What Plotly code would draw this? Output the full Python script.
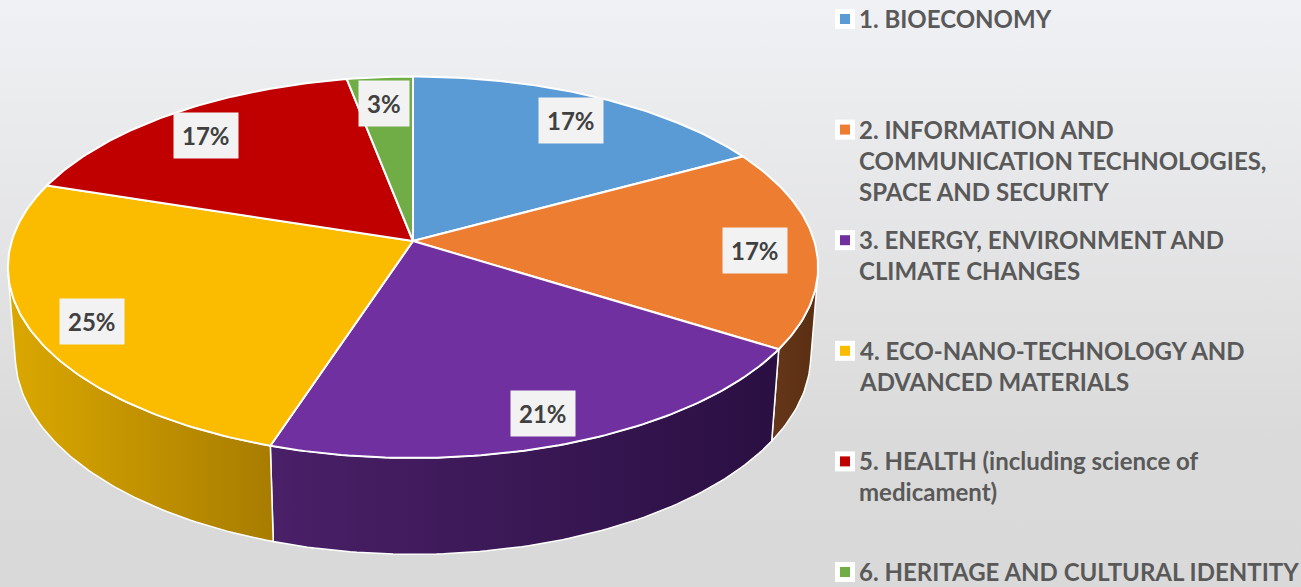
import numpy as np
import plotly.graph_objects as go

# ---------------- data ----------------
categories = [
    "1. BIOECONOMY",
    "2. INFORMATION AND COMMUNICATION TECHNOLOGIES, SPACE AND SECURITY",
    "3. ENERGY, ENVIRONMENT AND CLIMATE CHANGES",
    "4. ECO-NANO-TECHNOLOGY AND ADVANCED MATERIALS",
    "5. HEALTH (including science of medicament)",
    "6. HERITAGE AND CULTURAL IDENTITY",
]
legend_text = [
    "1. BIOECONOMY",
    "2. INFORMATION AND<br>COMMUNICATION TECHNOLOGIES,<br>SPACE AND SECURITY",
    "3. ENERGY, ENVIRONMENT AND<br>CLIMATE CHANGES",
    "4. ECO-NANO-TECHNOLOGY AND<br>ADVANCED MATERIALS",
    "5. HEALTH (including science of<br>medicament)",
    "6. HERITAGE AND CULTURAL IDENTITY",
]
values = [17, 17, 21, 25, 17, 3]
top_colors = ["#5B9BD5", "#ED7D31", "#7030A0", "#FBBC00", "#C00000", "#70AD47"]
side_colors = [
    ("#3d6d99", "#2f5578"),
    ("#65361a", "#5a2e12"),
    ("#4a2068", "#2a0f42"),
    ("#dba800", "#a87c00"),
    ("#8a0000", "#6a0000"),
    ("#4f7d31", "#3d6226"),
]

# ---------------- geometry (3D perspective pie) ----------------
W, H = 1301, 587
CX, CY = 413, 241
F = 2580.0
DIST = 6.43
PHI = np.radians(27.8)
THICK = 0.25
S, C = np.sin(PHI), np.cos(PHI)


def proj(u, v, z):
    d = v * C + DIST - z * S
    return CX + F * u / d, CY - F * (v * S + z * C) / d


total = float(sum(values))
cum = np.concatenate([[0.0], np.cumsum(values) / total]) * 2 * np.pi

fig = go.Figure()

# background gradient
fig.add_trace(go.Scatter(
    x=[0, W, W, 0, 0], y=[0, 0, H, H, 0], mode="lines", line=dict(width=0),
    fill="toself",
    fillgradient=dict(type="vertical", start=0, stop=H,
                      colorscale=[[0, "#f0f1f4"], [0.75, "#dadada"], [1, "#d9d9d9"]]),
    hoverinfo="skip", showlegend=False,
))

# visible outer walls
th_lo = np.arccos(-1.0 / (DIST * C))
th_hi = 2 * np.pi - th_lo
for i in range(len(values)):
    a, b = cum[i], cum[i + 1]
    lo, hi = max(a, th_lo), min(b, th_hi)
    if lo >= hi:
        continue
    t = np.linspace(lo, hi, max(8, int((hi - lo) / (2 * np.pi) * 400)))
    xt, yt = proj(np.sin(t), np.cos(t), 0.0)
    xb, yb = proj(np.sin(t[::-1]), np.cos(t[::-1]), -THICK)
    xs = np.concatenate([xt, xb, xt[:1]])
    ys = np.concatenate([yt, yb, yt[:1]])
    fig.add_trace(go.Scatter(
        x=xs, y=ys, mode="lines", line=dict(color="white", width=1.5),
        fill="toself",
        fillgradient=dict(type="horizontal",
                          colorscale=[[0, side_colors[i][0]], [1, side_colors[i][1]]]),
        hoverinfo="skip", showlegend=False,
    ))

# top faces
for i in range(len(values)):
    a, b = cum[i], cum[i + 1]
    t = np.linspace(a, b, max(8, int((b - a) / (2 * np.pi) * 400)))
    xr, yr = proj(np.sin(t), np.cos(t), 0.0)
    x0, y0 = proj(0.0, 0.0, 0.0)
    xs = np.concatenate([[x0], xr, [x0]])
    ys = np.concatenate([[y0], yr, [y0]])
    fig.add_trace(go.Scatter(
        x=xs, y=ys, mode="lines", line=dict(color="white", width=2),
        fill="toself", fillcolor=top_colors[i],
        name=categories[i], hoverinfo="name", showlegend=False,
    ))

# data labels
annotations = []
LABEL_R = 0.85
for i, val in enumerate(values):
    mid = (cum[i] + cum[i + 1]) / 2
    lx, ly = proj(LABEL_R * np.sin(mid), LABEL_R * np.cos(mid), 0.0)
    annotations.append(dict(
        x=lx, y=ly, xref="x", yref="y", text=f"<b>{round(val / total * 100)}%</b>",
        showarrow=False, font=dict(family="Lato, 'Open Sans', sans-serif", size=24, color="#404040"),
        bgcolor="#f2f2f2", borderpad=8, xanchor="center", yanchor="middle", yshift=-4,
    ))

# legend (custom, evenly spread like the original)
shapes = []
LEG_TOP, LEG_BOTTOM = 19, 572
n = len(values)
for i in range(n):
    yc = LEG_TOP + i * (LEG_BOTTOM - LEG_TOP) / (n - 1)
    shapes.append(dict(type="rect", xref="x", yref="y", x0=835, x1=855, y0=yc - 10, y1=yc + 10,
                       fillcolor="white", line=dict(width=0), layer="above"))
    shapes.append(dict(type="rect", xref="x", yref="y", x0=840, x1=850, y0=yc - 5, y1=yc + 5,
                       fillcolor=top_colors[i], line=dict(width=0), layer="above"))
    annotations.append(dict(
        x=857, y=yc - 17, xref="x", yref="y", text=f"<b>{legend_text[i]}</b>",
        showarrow=False, align="left", xanchor="left", yanchor="top",
        font=dict(family="Lato, 'Open Sans', sans-serif", size=24, color="#595959"),
    ))

fig.update_layout(
    width=W, height=H,
    margin=dict(l=0, r=0, t=0, b=0),
    paper_bgcolor="#e6e6e6", plot_bgcolor="#e6e6e6",
    xaxis=dict(range=[0, W], visible=False, fixedrange=True),
    yaxis=dict(range=[H, 0], visible=False, fixedrange=True),
    showlegend=False,
    annotations=annotations,
    shapes=shapes,
)

fig.write_html(
    "out.html",
    config={"displayModeBar": False},
    post_script="document.body.style.margin='0';document.body.style.overflow='hidden';",
)
